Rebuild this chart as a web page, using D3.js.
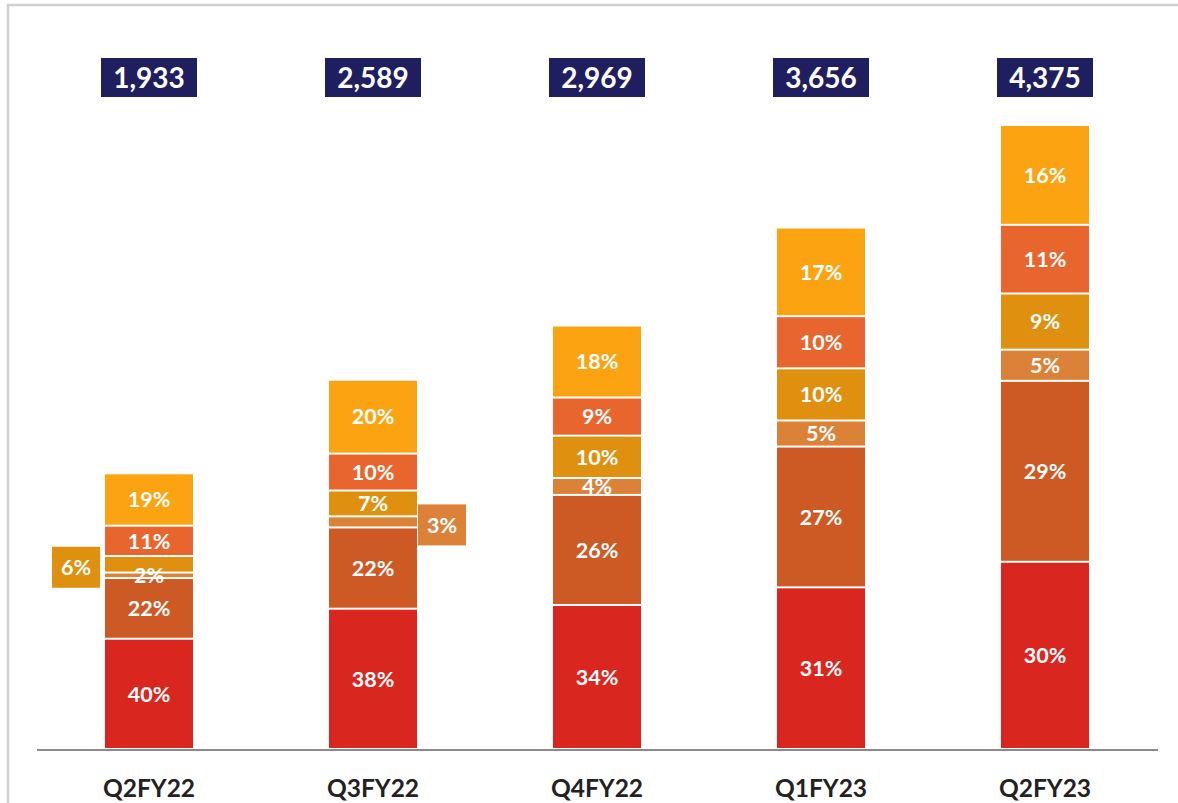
<!DOCTYPE html>
<html>
<head>
<meta charset="utf-8">
<script src="https://cdn.jsdelivr.net/npm/d3@7"></script>
<style>
  html, body { margin: 0; padding: 0; background: #fff; }
  svg { display: block; font-family: Lato, "Open Sans", sans-serif; }
</style>
</head>
<body>
<div id="chart"></div>
<script>
// quarters and totals
var quarters = ["Q2FY22", "Q3FY22", "Q4FY22", "Q1FY23", "Q2FY23"];
var totals = [1933, 2589, 2969, 3656, 4375];

// share of each segment (bottom to top), in %
var s1 = [40, 38, 34, 31, 30];
var s2 = [22, 22, 26, 27, 29];
var s3 = [2, 3, 4, 5, 5];
var s4 = [6, 7, 10, 10, 9];
var s5 = [11, 10, 9, 10, 11];
var s6 = [19, 20, 18, 17, 16];

var colors = ["#d9261f", "#cd5a24", "#db8238", "#e0900f", "#e8652e", "#fca311"];

// labels pulled out of the bar into a box beside it
var callouts = [
  { quarter: "Q2FY22", series: 3, side: "left" },
  { quarter: "Q3FY22", series: 2, side: "right" }
];
// small inner labels to hide because a callout shows them
var hidden = { "Q2FY22-3": true, "Q3FY22-2": true };

var W = 1178, H = 803;
var svg = d3.select("#chart").append("svg").attr("width", W).attr("height", H);

// light frame
svg.append("path")
  .attr("d", "M8," + H + "V5H" + W)
  .attr("fill", "none").attr("stroke", "#cfcfcf").attr("stroke-width", 2.5);

var x = d3.scalePoint().domain(quarters).range([37, 1157]).padding(0.5);
var y = d3.scaleLinear().domain([0, 4375]).range([749, 125]);
var barW = 88;

var all = [s1, s2, s3, s4, s5, s6];
var rows = quarters.map(function (q, i) {
  var pcts = all.map(function (s) { return s[i]; });
  var acc = 0;
  var segs = pcts.map(function (p, k) {
    var v0 = acc;
    acc += totals[i] * p / 100;
    return { quarter: q, k: k, pct: p, v0: v0, v1: Math.min(acc, totals[i]) };
  });
  // top segment always closes at the total
  segs[segs.length - 1].v1 = totals[i];
  return { quarter: q, total: totals[i], segs: segs };
});

var g = svg.selectAll(".bar").data(rows).enter().append("g").attr("class", "bar");

g.selectAll("rect").data(function (d) { return d.segs; }).enter().append("rect")
  .attr("x", function (d) { return x(d.quarter) - barW / 2; })
  .attr("width", barW)
  .attr("y", function (d) { return y(d.v1) + 1; })
  .attr("height", function (d) { return Math.max(0, y(d.v0) - y(d.v1) - 2); })
  .attr("fill", function (d) { return colors[d.k]; });

g.selectAll("text.pct").data(function (d) {
    return d.segs.filter(function (s) { return !hidden[s.quarter + "-" + s.k]; });
  }).enter().append("text")
  .attr("class", "pct")
  .attr("x", function (d) { return x(d.quarter); })
  .attr("y", function (d) { return (y(d.v0) + y(d.v1)) / 2; })
  .attr("dy", "0.36em")
  .attr("text-anchor", "middle")
  .attr("fill", "#fff")
  .attr("font-size", 21.5)
  .attr("font-weight", 700)
  .text(function (d) { return d.pct + "%"; });

// total boxes on top
var fmt = d3.format(",");
g.append("rect")
  .attr("x", function (d) { return x(d.quarter) - 48; })
  .attr("y", 58).attr("width", 96).attr("height", 39)
  .attr("fill", "#1f1f5f");
g.append("text")
  .attr("x", function (d) { return x(d.quarter); })
  .attr("y", 78).attr("dy", "0.36em")
  .attr("text-anchor", "middle")
  .attr("fill", "#fff").attr("font-size", 28).attr("font-weight", 700)
  .text(function (d) { return fmt(d.total); });

// callout boxes
callouts.forEach(function (c) {
  var row = rows[quarters.indexOf(c.quarter)];
  var s = row.segs[c.series];
  var cy = (y(s.v0) + y(s.v1)) / 2 + 3;
  var bx = c.side === "left" ? x(c.quarter) - barW / 2 - 53 : x(c.quarter) + barW / 2 + 1;
  svg.append("rect")
    .attr("x", bx).attr("y", cy - 20.5).attr("width", 48).attr("height", 41)
    .attr("fill", colors[c.series]);
  svg.append("text")
    .attr("x", bx + 24).attr("y", cy).attr("dy", "0.36em")
    .attr("text-anchor", "middle")
    .attr("fill", "#fff").attr("font-size", 21.5).attr("font-weight", 700)
    .text(s.pct + "%");
});

// baseline + category labels
svg.append("line")
  .attr("x1", 37).attr("x2", 1158).attr("y1", 750).attr("y2", 750)
  .attr("stroke", "#8a8a8a").attr("stroke-width", 2);

svg.selectAll(".cat").data(quarters).enter().append("text")
  .attr("class", "cat")
  .attr("x", function (d) { return x(d); })
  .attr("y", 797)
  .attr("text-anchor", "middle")
  .attr("fill", "#222").attr("font-size", 24.5).attr("font-weight", 700)
  .text(function (d) { return d; });
</script>
</body>
</html>
